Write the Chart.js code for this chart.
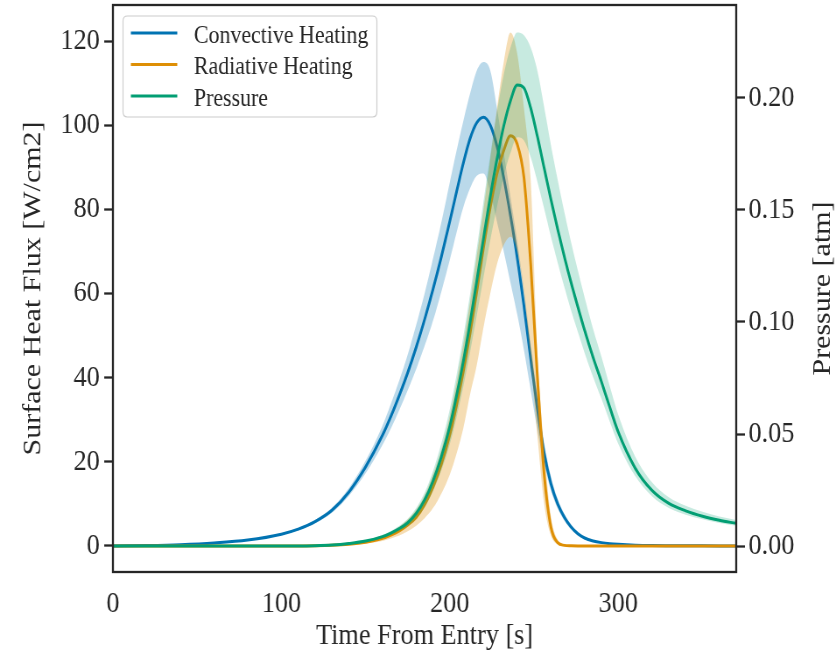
<!DOCTYPE html>
<html><head><meta charset="utf-8">
<script src="https://cdn.jsdelivr.net/npm/chart.js@4/dist/chart.umd.min.js"></script>
<style>
html,body{margin:0;padding:0;overflow:hidden;background:#fff;width:836px;height:651px;}
#wrap{width:836px;height:651px;overflow:hidden;}
#c{transform:scaleX(0.875393);transform-origin:0 0;display:block;}
</style></head><body>
<div id="wrap"><canvas id="c" width="955" height="651"></canvas></div>
<script>
// ---- data (time in s) ----
const time = [0,20,40,60,80,100,110,120,130,140,150,160,165,170,175,180,185,190,195,200,204,208,212,216,220,224,228,232,236,240,244,248,252,256,260,264,268,272,276,280,285,290,295,300,310,320,330,340,350,360,370];
// Convective heating [W/cm2]
const convMean = [0,0.1,0.3,0.7,1.4,2.8,4.0,5.8,8.5,12.8,18.8,26.3,30.8,35.8,41.2,47.2,53.8,61,68.8,77.2,84.2,91,96.8,100.6,101.9,100,95,87.5,78.5,68.5,57,44.5,32.5,22,14.8,10,6.8,4.5,2.9,1.9,1.2,0.8,0.55,0.4,0.2,0.1,0.06,0.04,0.03,0.02,0.01];
const convLow = [0,0.09,0.28,0.65,1.3,2.6,3.7,5.4,7.9,11.9,17.3,24,27.9,32.3,37,42,47.5,53.5,60.5,68,74.5,80.5,85,88,88.5,84,77,70,62.5,55,46.5,37,27.5,19.5,13.2,8.9,6,3.9,2.5,1.6,1.0,0.7,0.5,0.35,0.18,0.09,0.05,0.03,0.02,0.015,0.01];
const convHigh = [0,0.11,0.32,0.75,1.5,3.0,4.3,6.2,9.1,13.7,20.3,28.6,33.8,39.4,45.5,52.5,60,68.3,77,86.5,94,101,107.5,113,115,113,104,93.5,83,72.5,61,48,35.5,24.5,16.5,11.2,7.6,5,3.3,2.1,1.4,0.9,0.6,0.45,0.22,0.11,0.07,0.05,0.035,0.025,0.015];
// Radiative heating [W/cm2]
const radMean = [0,0,0,0,0,0,0.02,0.05,0.15,0.4,0.9,1.8,2.6,3.6,5.0,6.8,9.8,14,19.5,26.5,33.5,41.5,50.5,60.5,71,80.5,88.5,94,97.5,95.5,87.5,67,40,17,4.5,0.8,0.15,0.03,0,0,0,0,0,0,0,0,0,0,0,0,0];
const radLow = [0,0,0,0,0,0,0,0,0,0.2,0.6,1.2,1.8,2.5,3.5,4.8,6.6,9,12.5,17,22,28,36,43,52,60,67,71.5,73.5,70,60,44,26,10,2.5,0.4,0.05,0,0,0,0,0,0,0,0,0,0,0,0,0,0];
const radHigh = [0,0,0,0,0,0,0,0.1,0.25,0.6,1.2,2.4,3.4,4.6,6.3,8.6,12,17,23,31,39,48,58,69,80,92,104,115,122,117,104,87,46,23,7,1.5,0.3,0.05,0,0,0,0,0,0,0,0,0,0,0,0,0];
// Pressure [atm]
const presMean = [0,0,0,0,0,0,0,0.0001,0.0004,0.0011,0.0022,0.0042,0.0058,0.0078,0.0104,0.0145,0.0205,0.029,0.040,0.0535,0.0672,0.0825,0.0998,0.1185,0.1375,0.156,0.1728,0.1875,0.1988,0.2058,0.2045,0.1955,0.1827,0.1687,0.1547,0.1415,0.1291,0.1175,0.1067,0.0963,0.0843,0.0733,0.0618,0.0508,0.0348,0.0248,0.019,0.0157,0.0133,0.0115,0.0101];
const presLow = [0,0,0,0,0,0,0,0.0001,0.0003,0.0009,0.0018,0.0035,0.0049,0.0066,0.0088,0.0122,0.0172,0.0245,0.0338,0.0455,0.0575,0.0712,0.0865,0.103,0.12,0.1365,0.1515,0.165,0.1755,0.1825,0.181,0.1735,0.1625,0.1505,0.138,0.1265,0.1155,0.105,0.0955,0.0862,0.0755,0.0657,0.0554,0.0455,0.0312,0.0222,0.017,0.014,0.0119,0.0103,0.009];
const presHigh = [0,0,0,0,0,0,0,0.0001,0.0005,0.0013,0.0026,0.0049,0.0067,0.0091,0.0122,0.017,0.0238,0.0335,0.046,0.0612,0.0765,0.0935,0.1125,0.133,0.154,0.1745,0.194,0.2105,0.2225,0.2292,0.228,0.2225,0.212,0.196,0.179,0.1635,0.149,0.1355,0.123,0.111,0.097,0.0845,0.0712,0.0585,0.040,0.0285,0.0218,0.018,0.0153,0.0132,0.0116];

const xTicks = [0,100,200,300];
const heatTicks = [0,20,40,60,80,100,120];
const presTicks = [0,0.05,0.10,0.15,0.20];
const seriesNames = ['Convective Heating','Radiative Heating','Pressure'];
const xTitle = 'Time From Entry [s]';
const yTitle = 'Surface Heat Flux [W/cm2]';
const y1Title = 'Pressure [atm]';

// ---- styles ----
const colors = ['#0173B2','#DE8F05','#029E73'];
const fills = ['rgba(1,115,178,0.27)','rgba(222,143,5,0.30)','rgba(2,158,115,0.22)'];
const ink = '#262626';
const FONT = "'Liberation Serif','Times New Roman',serif";

const pts = arr => time.map((t,i)=>({x:t,y:arr[i]}));
function band(low, high, idx, axis, ord){
  return [
    {label:'_low'+idx, data:pts(low), yAxisID:axis, borderWidth:0, pointRadius:0, fill:false, order:ord+2, cubicInterpolationMode:'monotone'},
    {label:'_high'+idx, data:pts(high), yAxisID:axis, borderWidth:0, pointRadius:0, fill:'-1', backgroundColor:fills[idx], order:ord+1, cubicInterpolationMode:'monotone'}
  ];
}
function mainLine(arr, idx, axis, ord){
  return {label:seriesNames[idx], data:pts(arr), yAxisID:axis, borderColor:colors[idx], borderWidth:3, pointRadius:0, fill:false, order:ord, cubicInterpolationMode:'monotone'};
}
const datasets = [
  ...band(convLow, convHigh, 0, 'y', 7), mainLine(convMean, 0, 'y', 7),
  ...band(radLow, radHigh, 1, 'y', 4), mainLine(radMean, 1, 'y', 4),
  ...band(presLow, presHigh, 2, 'y1', 1), mainLine(presMean, 2, 'y1', 1)
];

const framePlugin = {
  id:'frame',
  afterDraw(chart){
    const {ctx, chartArea:a} = chart;
    ctx.save();
    ctx.strokeStyle = ink; ctx.lineWidth = 2.3;
    ctx.strokeRect(a.left, a.top, a.right-a.left, a.bottom-a.top);
    // right axis title (reads bottom-to-top)
    ctx.fillStyle = ink;
    ctx.font = '30px ' + FONT;
    ctx.textAlign = 'center'; ctx.textBaseline = 'middle';
    ctx.translate(a.right + 99, (a.top+a.bottom)/2);
    ctx.rotate(-Math.PI/2);
    ctx.fillText(y1Title, 0, 0);
    ctx.restore();
    // legend
    ctx.save();
    const bx = a.left + 11.5, by = a.top + 11, bw = 290, bh = 101, r = 5;
    ctx.beginPath();
    ctx.moveTo(bx+r, by); ctx.lineTo(bx+bw-r, by); ctx.quadraticCurveTo(bx+bw, by, bx+bw, by+r);
    ctx.lineTo(bx+bw, by+bh-r); ctx.quadraticCurveTo(bx+bw, by+bh, bx+bw-r, by+bh);
    ctx.lineTo(bx+r, by+bh); ctx.quadraticCurveTo(bx, by+bh, bx, by+bh-r);
    ctx.lineTo(bx, by+r); ctx.quadraticCurveTo(bx, by, bx+r, by);
    ctx.closePath();
    ctx.fillStyle = 'rgba(255,255,255,0.8)'; ctx.fill();
    ctx.strokeStyle = '#cccccc'; ctx.lineWidth = 1.2; ctx.stroke();
    ctx.font = '25px ' + FONT; ctx.textAlign = 'left'; ctx.textBaseline = 'alphabetic';
    seriesNames.forEach((name, i) => {
      const yy = by + 17 + i*31.5;
      ctx.strokeStyle = colors[i]; ctx.lineWidth = 3;
      ctx.beginPath(); ctx.moveTo(bx+9, yy); ctx.lineTo(bx+62, yy); ctx.stroke();
      ctx.fillStyle = ink;
      ctx.fillText(name, bx+81, yy+9.5);
    });
    ctx.restore();
  }
};

const tickFont = {family:FONT, size:30};
const titleFont = {family:FONT, size:30, lineHeight:1.0};
const noPad = s => { s.paddingTop = 0; s.paddingBottom = 0; s.paddingLeft = 0; s.paddingRight = 0; };

new Chart(document.getElementById('c'), {
  type:'line',
  data:{datasets},
  options:{
    responsive:false, animation:false, devicePixelRatio:1,
    layout:{padding:{top:5,left:0,right:0,bottom:0}},
    plugins:{legend:{display:false}, tooltip:{enabled:false}},
    scales:{
      x:{type:'linear', min:0, max:370,
        afterBuildTicks:s=>{s.ticks = xTicks.map(v=>({value:v}));},
        afterFit:s=>{s.height = 79; noPad(s);},
        grid:{display:false, drawTicks:false}, border:{display:false},
        ticks:{font:tickFont, color:ink, padding:14, maxRotation:0},
        title:{display:true, text:xTitle, font:titleFont, color:ink, padding:{top:0,bottom:0}}
      },
      y:{type:'linear', position:'left', min:-6.18, max:128.56,
        afterBuildTicks:s=>{s.ticks = heatTicks.map(v=>({value:v}));},
        afterFit:s=>{s.width = 129; noPad(s);},
        grid:{display:true, drawOnChartArea:false, drawTicks:true, tickLength:10, tickColor:ink, tickWidth:2.3}, border:{display:false},
        ticks:{font:tickFont, color:ink, padding:5},
        title:{display:true, text:yTitle, font:titleFont, color:ink, padding:{top:23,bottom:0}}
      },
      y1:{type:'linear', position:'right', min:-0.0116, max:0.2415,
        afterBuildTicks:s=>{s.ticks = presTicks.map(v=>({value:v}));},
        afterFit:s=>{s.width = 114; noPad(s);},
        grid:{display:true, drawOnChartArea:false, drawTicks:true, tickLength:10, tickColor:ink, tickWidth:2.3}, border:{display:false},
        ticks:{font:tickFont, color:ink, padding:4, callback:v=>Number(v).toFixed(2)}
      }
    }
  },
  plugins:[framePlugin]
});
</script>
</body></html>
